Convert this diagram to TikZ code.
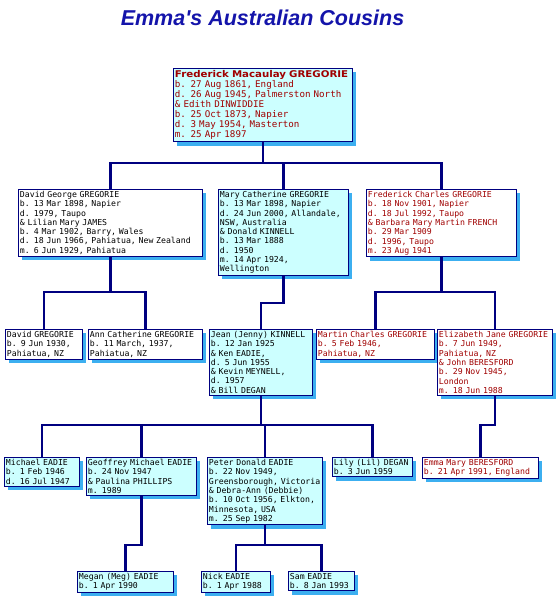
\documentclass[tikz,border=0pt]{standalone}
\usepackage{fontspec}
\usepackage{tikz}
\usepackage{xcolor}
\usetikzlibrary{shadows}
\newfontfamily\boxfont{DejaVu Sans Mono}
\newfontfamily\namefont{DejaVu Sans}[FakeStretch=1.1]
\newfontfamily\titlefont{Liberation Sans}
\definecolor{navy}{RGB}{0,0,128}
\definecolor{paleblue}{RGB}{204,255,255}
\definecolor{shadowblue}{RGB}{60,175,240}
\definecolor{darkred}{RGB}{160,0,0}
\definecolor{titleblue}{RGB}{20,20,170}
\tikzstyle{kin} = [rectangle, draw=navy, line width=0.9pt, inner xsep=1.5pt, inner ysep=1.8pt, anchor=north west, align=left, font=\boxfont\fontsize{8.2}{9.3}\selectfont, drop shadow={shadow xshift=4pt, shadow yshift=-4pt, fill=shadowblue, opacity=1}]
\tikzstyle{kinblue} = [kin, fill=paleblue]
\tikzstyle{kinwhite} = [kin, fill=white]
\tikzstyle{kinred} = [kinwhite, text=darkred]
\tikzstyle{link} = [line width=2.6pt, draw=navy]

\begin{document}
\begin{tikzpicture}[x=1pt, y=1pt]
        \useasboundingbox (0,0) rectangle (556,-596);
        \node (title) [anchor=base, font=\titlefont\bfseries\itshape\fontsize{21.5}{24}\selectfont, text=titleblue] at (262.5,-26) {Emma's Australian Cousins};

        \node (fmg) [kinblue, text=darkred, text width=176pt, font=\boxfont\fontsize{9.2}{10.1}\selectfont] at (173,-68) {{\namefont\bfseries\fontsize{9.3}{10.1}\selectfont Frederick Macaulay GREGORIE}\\b. 27 Aug 1861, England\\d. 26 Aug 1945, Palmerston North\\\& Edith DINWIDDIE\\b. 25 Oct 1873, Napier\\d. 3 May 1954, Masterton\\m. 25 Apr 1897};

        \node (dgg) [kinwhite, text width=181pt] at (18,-189) {David George GREGORIE\\b. 13 Mar 1898, Napier\\d. 1979, Taupo\\\& Lilian Mary JAMES\\b. 4 Mar 1902, Barry, Wales\\d. 18 Jun 1966, Pahiatua, New Zealand\\m. 6 Jun 1929, Pahiatua};
        \node (mcg) [kinblue, text width=127pt] at (218,-189) {Mary Catherine GREGORIE\\b. 13 Mar 1898, Napier\\d. 24 Jun 2000, Allandale,\\NSW, Australia\\\& Donald KINNELL\\b. 13 Mar 1888\\d. 1950\\m. 14 Apr 1924,\\Wellington};
        \node (fcg) [kinred, text width=147pt] at (366,-189) {Frederick Charles GREGORIE\\b. 18 Nov 1901, Napier\\d. 18 Jul 1992, Taupo\\\& Barbara Mary Martin FRENCH\\b. 29 Mar 1909\\d. 1996, Taupo\\m. 23 Aug 1941};

        \node (dg) [kinwhite, text width=74pt] at (5,-329) {David GREGORIE\\b. 9 Jun 1930,\\Pahiatua, NZ};
        \node (acg) [kinwhite, text width=111pt] at (88,-329) {Ann Catherine GREGORIE\\b. 11 March, 1937,\\Pahiatua, NZ};
        \node (jean) [kinblue, text width=100pt] at (209,-329) {Jean (Jenny) KINNELL\\b. 12 Jan 1925\\\& Ken EADIE,\\d. 5 Jun 1955\\\& Kevin MEYNELL,\\d. 1957\\\& Bill DEGAN};
        \node (mar) [kinred, text width=115pt] at (316,-329) {Martin Charles GREGORIE\\b. 5 Feb 1946,\\Pahiatua, NZ};
        \node (ejg) [kinred, text width=112pt] at (437,-329) {Elizabeth Jane GREGORIE\\b. 7 Jun 1949,\\Pahiatua, NZ\\\& John BERESFORD\\b. 29 Nov 1945,\\London\\m. 18 Jun 1988};

        \node (me) [kinblue, text width=72pt] at (4,-457) {Michael EADIE\\b. 1 Feb 1946\\d. 16 Jul 1947};
        \node (gme) [kinblue, text width=107pt] at (86,-457) {Geoffrey Michael EADIE\\b. 24 Nov 1947\\\& Paulina PHILLIPS\\m. 1989};
        \node (pde) [kinblue, text width=112pt] at (207,-457) {Peter Donald EADIE\\b. 22 Nov 1949,\\Greensborough, Victoria\\\& Debra-Ann (Debbie)\\b. 10 Oct 1956, Elkton,\\Minnesota, USA\\m. 25 Sep 1982};
        \node (lily) [kinblue, text width=77pt] at (332,-457) {Lily (Lil) DEGAN\\b. 3 Jun 1959};
        \node (emb) [kinred, text width=113pt] at (422,-457) {Emma Mary BERESFORD\\b. 21 Apr 1991, England};

        \node (meg) [kinblue, text width=93pt] at (77,-571) {Megan (Meg) EADIE\\b. 1 Apr 1990};
        \node (nick) [kinblue, text width=66pt] at (201,-571) {Nick EADIE\\b. 1 Apr 1988};
        \node (sam) [kinblue, text width=63pt] at (288,-571) {Sam EADIE\\b. 8 Jan 1993};

        \draw [link] (fmg.south) |- ([yshift=26pt]dgg.north) -- (dgg.north);
        \draw [link] (fmg.south) |- ([yshift=26pt]mcg.north) -- (mcg.north);
        \draw [link] (fmg.south) |- ([yshift=26pt]fcg.north) -- (fcg.north);
        \draw [link] (dgg.south) |- ([yshift=37pt]dg.north) -- (dg.north);
        \draw [link] (dgg.south) |- ([yshift=37pt]acg.north) -- (acg.north);
        \draw [link] (mcg.south) |- ([yshift=26pt]jean.north) -- (jean.north);
        \draw [link] (fcg.south) |- ([yshift=37pt]mar.north) -- (mar.north);
        \draw [link] (fcg.south) |- ([yshift=37pt]ejg.north) -- (ejg.north);
        \draw [link] (jean.south) |- ([yshift=32pt]me.north) -- (me.north);
        \draw [link] (jean.south) |- ([yshift=32pt]gme.north) -- (gme.north);
        \draw [link] (jean.south) |- ([yshift=32pt]pde.north) -- (pde.north);
        \draw [link] (jean.south) |- ([yshift=32pt]lily.north) -- (lily.north);
        \draw [link] (ejg.south) |- ([yshift=32pt]emb.north) -- (emb.north);
        \draw [link] (gme.south) |- ([yshift=26pt]meg.north) -- (meg.north);
        \draw [link] (pde.south) |- ([yshift=26pt]nick.north) -- (nick.north);
        \draw [link] (pde.south) |- ([yshift=26pt]sam.north) -- (sam.north);
    \end{tikzpicture}
\end{document}
